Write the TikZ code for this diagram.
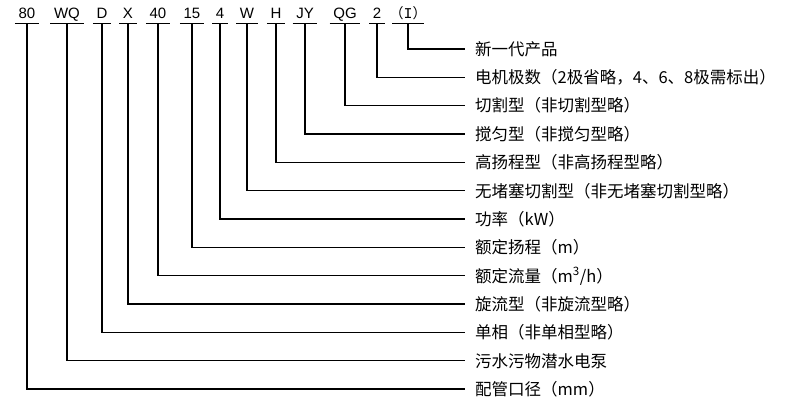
\documentclass[tikz,border=0pt]{standalone}
\usepackage{fontspec}
\setmainfont{Liberation Sans}
\newfontfamily\cjk{Noto Sans CJK SC}
\newfontfamily\mono{Liberation Mono}
\tikzset{
  code/.style={anchor=base, font=\fontsize{15}{17}\selectfont, inner xsep=3.5pt, inner ysep=4.3pt, text depth=0pt},
  desc/.style={anchor=west, font=\cjk\fontsize{16.5}{19}\selectfont, inner xsep=10pt, inner ysep=0pt, text height=14pt, text depth=1.4pt},
  lead/.style={line width=1.3pt}
}
\begin{document}
\begin{tikzpicture}[x=1pt, y=-1pt]
	\useasboundingbox (0,0) rectangle (790,409);
	
	% model code
	\node[code] (n80) at (27,19) {80};
	\node[code] (nWQ) at (67,19) {WQ};
	\node[code] (nD) at (102,19) {D};
	\node[code] (nX) at (128,19) {X};
	\node[code] (n40) at (158,19) {40};
	\node[code] (n15) at (192,19) {15};
	\node[code] (n4) at (220,19) {4};
	\node[code] (nW) at (247,19) {W};
	\node[code] (nH) at (276,19) {H};
	\node[code] (nJY) at (305,19) {JY};
	\node[code] (nQG) at (345,19) {QG};
	\node[code] (n2) at (377,19) {2};
	\node[code, font=\cjk\fontsize{14}{16}\selectfont, inner xsep=-3pt] (nI) at (408,19) {（{\mono\fontsize{15}{17}\selectfont I}）};
	
	% meanings
	\node[desc] (dI) at (465,49) {新一代产品};
	\node[desc] (d2) at (465,77.3) {电机极数（2极省略，4、6、8极需标出）};
	\node[desc] (dQG) at (465,105.7) {切割型（非切割型略）};
	\node[desc] (dJY) at (465,134) {搅匀型（非搅匀型略）};
	\node[desc] (dH) at (465,162.3) {高扬程型（非高扬程型略）};
	\node[desc] (dW) at (465,190.7) {无堵塞切割型（非无堵塞切割型略）};
	\node[desc] (d4) at (465,219) {功率（kW）};
	\node[desc] (d15) at (465,247.3) {额定扬程（m）};
	\node[desc] (d40) at (465,275.7) {额定流量（m\textsuperscript{3}/h）};
	\node[desc] (dX) at (465,304) {旋流型（非旋流型略）};
	\node[desc] (dD) at (465,332.3) {单相（非单相型略）};
	\node[desc] (dWQ) at (465,360.7) {污水污物潜水电泵};
	\node[desc] (d80) at (465,389) {配管口径（mm）};
	
	% leaders
	\draw[lead] (n80.south west) -- (n80.south east) (n80.south) |- (d80.west);
	\draw[lead] (nWQ.south west) -- (nWQ.south east) (nWQ.south) |- (dWQ.west);
	\draw[lead] (nD.south west) -- (nD.south east) (nD.south) |- (dD.west);
	\draw[lead] (nX.south west) -- (nX.south east) (nX.south) |- (dX.west);
	\draw[lead] (n40.south west) -- (n40.south east) (n40.south) |- (d40.west);
	\draw[lead] (n15.south west) -- (n15.south east) (n15.south) |- (d15.west);
	\draw[lead] (n4.south west) -- (n4.south east) (n4.south) |- (d4.west);
	\draw[lead] (nW.south west) -- (nW.south east) (nW.south) |- (dW.west);
	\draw[lead] (nH.south west) -- (nH.south east) (nH.south) |- (dH.west);
	\draw[lead] (nJY.south west) -- (nJY.south east) (nJY.south) |- (dJY.west);
	\draw[lead] (nQG.south west) -- (nQG.south east) (nQG.south) |- (dQG.west);
	\draw[lead] (n2.south west) -- (n2.south east) (n2.south) |- (d2.west);
	\draw[lead] (nI.south west) -- (nI.south east) (nI.south) |- (dI.west);
\end{tikzpicture}
\end{document}
